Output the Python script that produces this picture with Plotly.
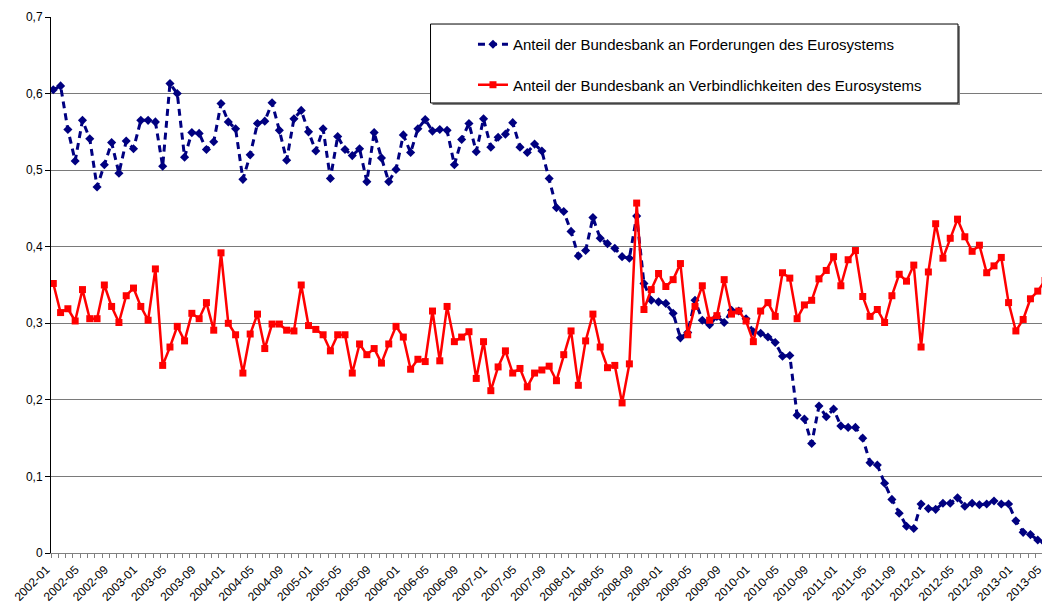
import plotly.graph_objects as go

# monthly observations, 2002-01 .. 2013-06
months = [f"{2002 + k // 12}-{k % 12 + 1:02d}" for k in range(138)]

# Anteil der Bundesbank an Forderungen des Eurosystems
forderungen = [
    0.605, 0.610, 0.553, 0.512, 0.565, 0.541, 0.478, 0.507, 0.536, 0.496,
    0.538, 0.528, 0.565, 0.565, 0.563, 0.505, 0.613, 0.600, 0.517, 0.549,
    0.548, 0.527, 0.537, 0.587, 0.563, 0.554, 0.488, 0.520, 0.561, 0.564,
    0.588, 0.552, 0.513, 0.567, 0.578, 0.550, 0.525, 0.554, 0.489, 0.544,
    0.527, 0.519, 0.528, 0.485, 0.549, 0.516, 0.485, 0.501, 0.546, 0.523,
    0.554, 0.566, 0.551, 0.553, 0.552, 0.507, 0.540, 0.561, 0.524, 0.567,
    0.530, 0.543, 0.547, 0.562, 0.530, 0.523, 0.534, 0.525, 0.489, 0.451,
    0.446, 0.420, 0.388, 0.395, 0.438, 0.411, 0.404, 0.398, 0.387, 0.385,
    0.440, 0.352, 0.330, 0.328, 0.326, 0.313, 0.281, 0.288, 0.330, 0.304,
    0.298, 0.309, 0.301, 0.317, 0.316, 0.306, 0.289, 0.287, 0.282, 0.275,
    0.257, 0.258, 0.180, 0.175, 0.143, 0.192, 0.178, 0.188, 0.166, 0.164,
    0.164, 0.150, 0.118, 0.115, 0.091, 0.070, 0.052, 0.035, 0.032, 0.064,
    0.058, 0.057, 0.065, 0.065, 0.072, 0.061, 0.065, 0.063, 0.064, 0.068,
    0.064, 0.064, 0.042, 0.027, 0.024, 0.017, 0.013, 0.014,
]

# Anteil der Bundesbank an Verbindlichkeiten des Eurosystems
verbindlichkeiten = [
    0.352, 0.314, 0.319, 0.303, 0.344, 0.306, 0.306, 0.350, 0.322, 0.301,
    0.336, 0.346, 0.322, 0.304, 0.371, 0.245, 0.269, 0.296, 0.277, 0.313,
    0.306, 0.327, 0.291, 0.392, 0.300, 0.285, 0.235, 0.286, 0.312, 0.267,
    0.299, 0.299, 0.291, 0.290, 0.350, 0.297, 0.292, 0.285, 0.264, 0.285,
    0.285, 0.235, 0.273, 0.259, 0.267, 0.248, 0.273, 0.296, 0.282, 0.240,
    0.253, 0.250, 0.316, 0.251, 0.322, 0.276, 0.282, 0.289, 0.228, 0.276,
    0.212, 0.243, 0.264, 0.235, 0.241, 0.217, 0.235, 0.239, 0.244, 0.225,
    0.259, 0.290, 0.219, 0.277, 0.312, 0.269, 0.242, 0.245, 0.196, 0.247,
    0.457, 0.318, 0.344, 0.365, 0.348, 0.357, 0.378, 0.285, 0.322, 0.349,
    0.304, 0.310, 0.357, 0.312, 0.316, 0.303, 0.276, 0.316, 0.327, 0.309,
    0.366, 0.359, 0.306, 0.324, 0.330, 0.358, 0.369, 0.387, 0.349, 0.383,
    0.395, 0.335, 0.309, 0.318, 0.301, 0.336, 0.364, 0.355, 0.376, 0.269,
    0.367, 0.430, 0.385, 0.411, 0.436, 0.413, 0.394, 0.402, 0.366, 0.375,
    0.386, 0.327, 0.290, 0.305, 0.332, 0.342, 0.356, 0.343,
]

y_ticks = [0, 0.1, 0.2, 0.3, 0.4, 0.5, 0.6, 0.7]
y_labels = ["0", "0,1", "0,2", "0,3", "0,4", "0,5", "0,6", "0,7"]

idx = list(range(len(months)))
font = "Liberation Sans, Arial, sans-serif"

fig = go.Figure()

fig.add_trace(go.Scatter(
    x=idx, y=forderungen,
    name="Anteil der Bundesbank an Forderungen des Eurosystems",
    mode="lines+markers",
    line=dict(color="#000080", width=3, dash="7px,5px"),
    marker=dict(symbol="diamond", size=7, color="#000080"),
    legendgroup="a",
))

fig.add_trace(go.Scatter(
    x=idx, y=verbindlichkeiten,
    name="Anteil der Bundesbank an Verbindlichkeiten des Eurosystems",
    mode="lines+markers",
    line=dict(color="#FF0000", width=2.5),
    marker=dict(symbol="square", size=7, color="#FF0000"),
    legendgroup="b",
))

# legend frame (white box with slight shadow)
fig.add_shape(type="rect", xref="paper", yref="paper",
              x0=0.3819, x1=0.9099, y0=0.8358, y1=0.9831,
              fillcolor="#808080", line=dict(width=0), layer="above")
fig.add_shape(type="rect", xref="paper", yref="paper",
              x0=0.3799, x1=0.9079, y0=0.8396, y1=0.9869,
              fillcolor="white", line=dict(color="black", width=1), layer="above")

# the page body adds an 8px offset, so the figure is 8px smaller each way
fig.update_layout(
    width=1042, height=608,
    margin=dict(l=43, r=0, t=9, b=63),
    paper_bgcolor="white", plot_bgcolor="white",
    font=dict(family=font, size=12, color="black"),
    showlegend=True,
    legend=dict(
        x=0.4224, y=0.9795, xanchor="left", yanchor="top",
        bgcolor="rgba(0,0,0,0)", borderwidth=0,
        font=dict(family=font, size=15, color="black"),
        traceorder="grouped", tracegroupgap=18,
    ),
    xaxis=dict(
        range=[-0.315, 136.68],
        automargin=False,
        tickmode="array",
        tickvals=idx[::4],
        ticktext=months[::4],
        tickangle=-45,
        ticks="",
        ticklabelshift=-7,
        ticklabelstandoff=4,
        showgrid=False, zeroline=False,
        showline=True, linecolor="#808080", linewidth=1,
        tickfont=dict(family=font, size=12, color="black"),
        minor=dict(
            tickmode="array",
            tickvals=[k - 0.315 for k in range(len(months) + 1)],
            ticks="outside", ticklen=4, tickcolor="#808080", showgrid=False,
        ),
    ),
    yaxis=dict(
        range=[0, 0.7],
        automargin=False,
        tickmode="array", tickvals=y_ticks, ticktext=y_labels,
        ticks="outside", ticklen=5, tickcolor="black",
        showgrid=True, gridcolor="#7a7a7a", gridwidth=1,
        zeroline=False,
        showline=True, linecolor="black", linewidth=1,
        tickfont=dict(family=font, size=12, color="black"),
    ),
)

fig.write_html("out.html")
